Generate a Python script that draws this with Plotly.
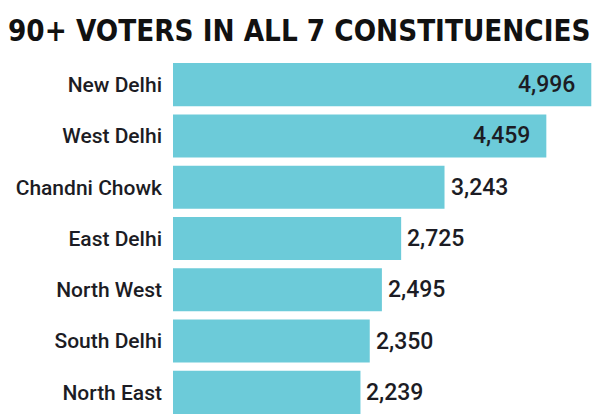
import plotly.graph_objects as go

categories = ["New Delhi", "West Delhi", "Chandni Chowk", "East Delhi", "North West", "South Delhi", "North East"]
values = [4996, 4459, 3243, 2725, 2495, 2350, 2239]
value_labels = ["4,996", "4,459", "3,243", "2,725", "2,495", "2,350", "2,239"]
inside = [True, True, False, False, False, False, False]

BAR = "#6ccbd9"
INK = "#1c1c24"
LABEL_FONT = "Roboto, Liberation Sans, Arial, sans-serif"

fig = go.Figure(go.Bar(
    x=values, y=categories, orientation="h",
    marker=dict(color=BAR, line=dict(width=0)),
    hoverinfo="skip",
))

for c, v, t, ins in zip(categories, values, value_labels, inside):
    fig.add_annotation(
        x=v, y=c, text=t, showarrow=False,
        xanchor="right" if ins else "left",
        xshift=-14 if ins else 4,
        font=dict(family=LABEL_FONT, size=23, color=INK, weight=500),
    )

# page has an 8px body margin, so the figure is 8px smaller than the window
fig.update_layout(
    width=592, height=412,
    margin=dict(l=165, r=0, t=51, b=2),
    paper_bgcolor="white", plot_bgcolor="white",
    bargap=0.16,
    showlegend=False,
    title=dict(
        text="<b>90+ VOTERS IN ALL 7 CONSTITUENCIES</b>",
        x=0.0, xanchor="left", xref="container",
        y=0.97, yanchor="top", yref="container",
        automargin=False,
        font=dict(family="DejaVu Sans Condensed, Liberation Sans, sans-serif", size=29.3, color="#111111"),
    ),
    xaxis=dict(range=[0, 5100], visible=False, fixedrange=True, automargin=False),
    yaxis=dict(
        autorange="reversed", showgrid=False, showline=False, zeroline=False,
        ticks="", ticklabelstandoff=10, automargin=False,
        tickfont=dict(family=LABEL_FONT, size=21, color=INK, weight=500),
    ),
)

fig.write_html("out.html")
